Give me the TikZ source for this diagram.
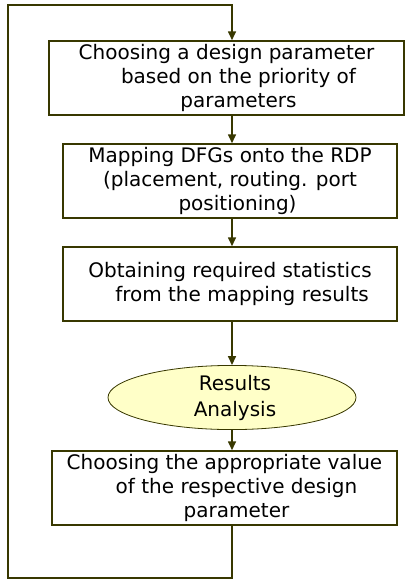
\documentclass[tikz,border=0pt]{standalone}
\usepackage{fontspec}
\setmainfont{DejaVu Sans}
\usetikzlibrary{arrows.meta,shapes.geometric}
\definecolor{olive}{HTML}{383800}
\definecolor{pale}{HTML}{FFFFC8}
\begin{document}
\begin{tikzpicture}[x=1pt,y=-1pt,
  box/.style={draw=olive,line width=1.5pt,rectangle,minimum height=74pt,inner sep=0pt,align=center,font=\fontsize{20}{24}\selectfont},
  oval/.style={draw=olive,line width=0.8pt,ellipse,fill=pale,minimum width=248pt,minimum height=59pt,inner sep=0pt,align=center,font=\fontsize{20}{26}\selectfont},
  conn/.style={draw=olive,line width=1.6pt},
  arr/.style={conn,-{Triangle[length=9pt,width=8pt]}}]
\useasboundingbox (0,0) rectangle (405,581);
\node[box,minimum width=355pt] (b1) at (226.5,78) {Choosing a design parameter\\\hspace{1.2em}based on the priority of\\\hspace{1.2em}parameters};
\node[box,minimum width=334pt] (b2) at (230,181) {Mapping DFGs onto the RDP\\(placement, routing. port\\\hspace{0.75em}positioning)};
\node[box,minimum width=334pt] (b3) at (230,284) {Obtaining required statistics\\\hspace{1.2em}from the mapping results};
\node[oval] (e) at (232,397.5) {\hspace{0.3em}Results\\\hspace{0.3em}Analysis};
\node[box,minimum width=345pt] (b5) at (224.5,488) {Choosing the appropriate value\\\hspace{1.2em}of the respective design\\\hspace{1.2em}parameter};
\coordinate (ax) at (232,0);
\coordinate (tl) at (8,5);
\coordinate (bl) at (8,578);
\draw[arr] (b1.south -| ax) -- (b2.north -| ax);
\draw[arr] (b2.south -| ax) -- (b3.north -| ax);
\draw[arr] (b3.south -| ax) -- (e.north -| ax);
\draw[arr] (e.south -| ax) -- (b5.north -| ax);
\draw[arr] (b5.south -| ax) -- (ax |- bl) -- (bl) -- (tl) -- (ax |- tl) -- (b1.north -| ax);
\end{tikzpicture}
\end{document}
